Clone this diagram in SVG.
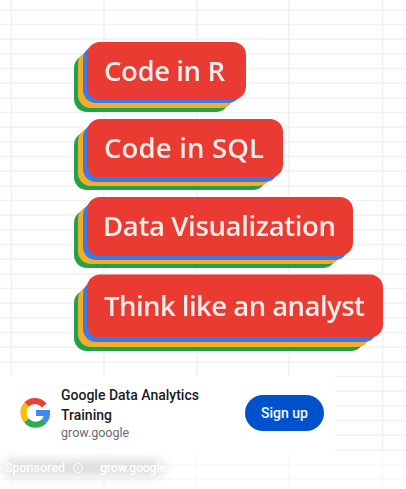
<svg xmlns="http://www.w3.org/2000/svg" width="406" height="489" viewBox="0 0 406 489">
<style>
.grid line{stroke:#f1f1f3;stroke-width:1.6}
.g{fill:#24a148}.y{fill:#f0ae2c}.b{fill:#4377e0}.r{fill:#ea3a33}
.lab{font-family:"Open Sans","Roboto","Liberation Sans",sans-serif;font-weight:600;font-size:27.500px;fill:#fbeeea}
.t{font-family:"Roboto","Liberation Sans",sans-serif;font-weight:500;font-size:14px;fill:#1b1b1f}
.s{font-family:"Roboto","Liberation Sans",sans-serif;font-size:12.5px;fill:#6b6b70}
.sp{font-family:"Roboto","Liberation Sans",sans-serif;font-size:12.500px;font-weight:500;fill:#fff}
</style>
<defs>
<filter id="soft" x="-5%" y="-5%" width="110%" height="110%"><feGaussianBlur stdDeviation="0.5"/></filter>
<filter id="shadow" x="-30%" y="-200%" width="160%" height="500%"><feGaussianBlur stdDeviation="6"/></filter>
</defs>
<rect width="406" height="489" fill="#fff"/>
<g class="grid" id="grid">
<line x1="0" x2="406" y1="10" y2="10"/><line x1="0" x2="406" y1="24.5" y2="24.5"/><line x1="0" x2="406" y1="39" y2="39"/><line x1="0" x2="406" y1="54" y2="54"/><line x1="0" x2="406" y1="68.5" y2="68.5"/><line x1="0" x2="406" y1="83" y2="83"/><line x1="0" x2="406" y1="98" y2="98"/><line x1="0" x2="406" y1="112.5" y2="112.5"/><line x1="0" x2="406" y1="127" y2="127"/><line x1="0" x2="406" y1="142" y2="142"/><line x1="0" x2="406" y1="156.5" y2="156.5"/><line x1="0" x2="406" y1="171" y2="171"/><line x1="0" x2="406" y1="186" y2="186"/><line x1="0" x2="406" y1="200.5" y2="200.5"/><line x1="0" x2="406" y1="215" y2="215"/><line x1="0" x2="406" y1="230" y2="230"/><line x1="0" x2="406" y1="244.5" y2="244.5"/><line x1="0" x2="406" y1="259" y2="259"/><line x1="0" x2="406" y1="274" y2="274"/><line x1="0" x2="406" y1="288.5" y2="288.5"/><line x1="0" x2="406" y1="303" y2="303"/><line x1="0" x2="406" y1="318" y2="318"/><line x1="0" x2="406" y1="332.5" y2="332.5"/><line x1="0" x2="406" y1="347" y2="347"/><line x1="0" x2="406" y1="362" y2="362"/><line x1="0" x2="406" y1="376.5" y2="376.5"/><line x1="0" x2="406" y1="391" y2="391"/><line x1="0" x2="406" y1="406" y2="406"/><line x1="0" x2="406" y1="420.5" y2="420.5"/><line x1="0" x2="406" y1="435" y2="435"/><line x1="0" x2="406" y1="450" y2="450"/><line x1="0" x2="406" y1="464.5" y2="464.5"/><line x1="0" x2="406" y1="479" y2="479"/>
<line x1="11.5" x2="11.5" y1="0" y2="489"/><line x1="104" x2="104" y1="0" y2="489"/><line x1="197" x2="197" y1="0" y2="489"/><line x1="289" x2="289" y1="0" y2="489"/><line x1="382.500" x2="382.500" y1="0" y2="489"/>
</g>
<g id="pill-r" filter="url(#soft)">
<rect class="g" x="74" y="55" width="155" height="57" rx="13"/><rect class="y" x="78" y="51" width="156" height="57" rx="13"/><rect class="b" x="83" y="46" width="158" height="57" rx="13"/><rect class="r" x="87" y="42" width="159" height="57.500" rx="13"/>
<text class="lab" x="104" y="81" textLength="121">Code in R</text>
</g>
<g id="pill-sql" filter="url(#soft)">
<rect class="g" x="74" y="132" width="192" height="58" rx="13"/><rect class="y" x="78" y="128" width="193" height="58" rx="13"/><rect class="b" x="83" y="124" width="195" height="58" rx="13"/><rect class="r" x="87" y="119" width="196" height="58.500" rx="13"/>
<text class="lab" x="104" y="158" textLength="160">Code in SQL</text>
</g>
<g id="pill-viz" filter="url(#soft)">
<rect class="g" x="74" y="210" width="262" height="58" rx="13"/><rect class="y" x="78" y="206" width="263" height="58" rx="13"/><rect class="b" x="83" y="202" width="265" height="58" rx="13"/><rect class="r" x="87" y="197" width="266" height="58.500" rx="13"/>
<text class="lab" x="103" y="236" textLength="233">Data Visualization</text>
</g>
<g id="pill-analyst" filter="url(#soft)">
<rect class="g" x="74" y="290" width="290" height="61" rx="13"/><rect class="y" x="78" y="286" width="292" height="61" rx="13"/><rect class="b" x="83" y="281" width="294" height="61" rx="13"/><rect class="r" x="87" y="274.500" width="296" height="63" rx="13"/>
<text class="lab" x="104" y="316" textLength="261">Think like an analyst</text>
</g>
<g id="footer">
<rect x="0" y="452" width="406" height="37" fill="#fff" opacity="0.55"/>
<rect x="4" y="461" width="160" height="14" rx="6" fill="#bdbdbd" opacity="0.6" filter="url(#shadow)"/>
<text class="sp" x="5" y="472" textLength="60">Sponsored</text>
<circle cx="78" cy="468" r="4.500" fill="none" stroke="#fff" stroke-width="1"/>
<rect x="77.500" y="466.500" width="1" height="3.500" fill="#fff"/>
<text class="sp" x="100" y="472" textLength="66">grow.google</text>
</g>
<g id="card">
<rect x="0" y="375" width="335" height="77" fill="#fff"/>
<g id="logo" fill="none" stroke-width="6">
<path d="M44.300 405.500A12 12 0 0 0 26.500 404.500" stroke="#ea4335"/>
<path d="M26.500 404.500A12 12 0 0 0 26.500 420.500" stroke="#fbbc05"/>
<path d="M26.500 420.500A12 12 0 0 0 44.500 421" stroke="#34a853"/>
<path d="M44.500 421A12 12 0 0 0 47 413" stroke="#4285f4"/>
<rect x="36" y="410" width="14" height="6" fill="#4285f4" stroke="none"/>
</g>
<text class="t" x="61" y="400">Google Data Analytics</text>
<text class="t" x="61" y="420">Training</text>
<text class="s" x="61" y="437">grow.google</text>
</g>
<g id="signup">
<rect x="245" y="395" width="79" height="36" rx="18" fill="#0052cc"/>
<text x="284.500" y="418" text-anchor="middle" font-family="Roboto,'Liberation Sans',sans-serif" font-weight="500" font-size="14" fill="#f5f8ff">Sign up</text>
</g>
</svg>
